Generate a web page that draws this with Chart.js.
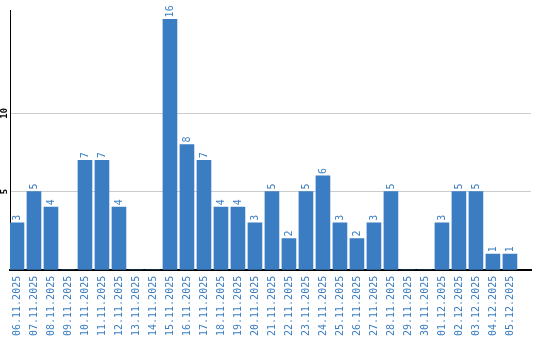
<!DOCTYPE html>
<html>
<head>
<meta charset="utf-8">
<script src="https://cdn.jsdelivr.net/npm/chart.js@4"></script>
<style>
    html, body { margin: 0; padding: 0; background: #fff; }
    #wrap { width: 540px; height: 340px; }
</style>
</head>
<body>
<div id="wrap"><canvas id="chart" width="540" height="340"></canvas></div>
<script>
// Daily counts
const dates = [
    '06.11.2025', '07.11.2025', '08.11.2025', '09.11.2025', '10.11.2025',
    '11.11.2025', '12.11.2025', '13.11.2025', '14.11.2025', '15.11.2025',
    '16.11.2025', '17.11.2025', '18.11.2025', '19.11.2025', '20.11.2025',
    '21.11.2025', '22.11.2025', '23.11.2025', '24.11.2025', '25.11.2025',
    '26.11.2025', '27.11.2025', '28.11.2025', '29.11.2025', '30.11.2025',
    '01.12.2025', '02.12.2025', '03.12.2025', '04.12.2025', '05.12.2025'
];
const counts = [3, 5, 4, 0, 7, 7, 4, 0, 0, 16, 8, 7, 4, 4, 3, 5, 2, 5, 6, 3, 2, 3, 5, 0, 0, 3, 5, 5, 1, 1];
const yTicks = [5, 10];

const blue = '#3b7dc2';
const font = { family: '"DejaVu Sans Mono", monospace', size: 10 };

// rotated value labels above bars + rotated y tick labels
const labelsPlugin = {
    id: 'rotLabels',
    afterDatasetsDraw(chart) {
        const ctx = chart.ctx;
        const meta = chart.getDatasetMeta(0);
        ctx.save();
        ctx.font = `${font.size}px ${font.family}`;
        ctx.fillStyle = blue;
        ctx.textAlign = 'left';
        ctx.textBaseline = 'middle';
        meta.data.forEach((bar, i) => {
            if (!counts[i]) return;
            ctx.save();
            ctx.translate(bar.x, bar.y - 2);
            ctx.rotate(-Math.PI / 2);
            ctx.fillText(String(counts[i]), 0, 0);
            ctx.restore();
        });
        const y = chart.scales.y;
        ctx.fillStyle = '#000';
        ctx.font = `bold 9px ${font.family}`;
        ctx.textAlign = 'center';
        yTicks.forEach(v => {
            ctx.save();
            ctx.translate(5, y.getPixelForValue(v));
            ctx.rotate(-Math.PI / 2);
            ctx.fillText(String(v), 0, 0);
            ctx.restore();
        });
        ctx.restore();
    }
};

new Chart(document.getElementById('chart'), {
    type: 'bar',
    data: {
        datasets: [{
            data: counts.map((v, i) => ({ x: i, y: v })),
            backgroundColor: blue,
            barThickness: 14
        }]
    },
    options: {
        responsive: false,
        animation: false,
        layout: { padding: { left: 10, top: 10, right: 9, bottom: -2 } },
        plugins: {
            legend: { display: false },
            tooltip: { enabled: false }
        },
        scales: {
            x: {
                type: 'linear',
                offset: false,
                min: -0.41,
                max: 30.24,
                afterBuildTicks: axis => { axis.ticks = dates.map((d, i) => ({ value: i })); },
                grid: { display: false, drawTicks: false },
                border: { display: true, color: '#000', width: 2 },
                ticks: {
                    autoSkip: false,
                    minRotation: 90,
                    maxRotation: 90,
                    padding: 6,
                    color: blue,
                    font: font,
                    callback: v => dates[v] || ''
                }
            },
            y: {
                min: 0,
                max: 16.6,
                afterBuildTicks: axis => { axis.ticks = yTicks.map(v => ({ value: v })); },
                grid: { color: '#cccccc', drawTicks: false },
                border: { display: true, color: '#000', width: 1 },
                ticks: { display: false }
            }
        }
    },
    plugins: [labelsPlugin]
});
</script>
</body>
</html>
